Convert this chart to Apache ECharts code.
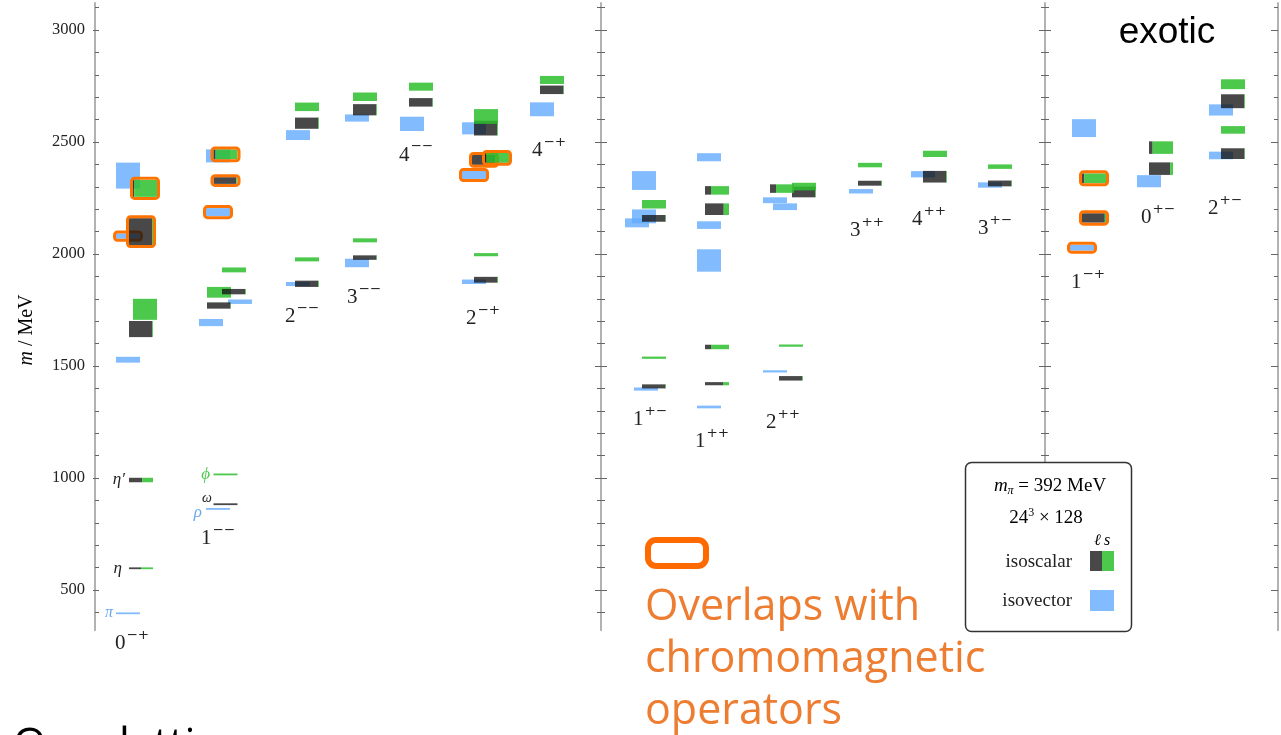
<!DOCTYPE html>
<html>
<head>
<meta charset="utf-8">
<script src="https://cdn.jsdelivr.net/npm/echarts@6/dist/echarts.min.js"></script>
<style>
  html, body { margin: 0; padding: 0; background: #fff; }
  #chart { width: 1281px; height: 735px; }
</style>
</head>
<body>
<div id="chart"></div>
<script>
// J^PC channels, left to right
const channels = ['0-+', '1--', '2--', '3--', '4--', '2-+', '4-+',
                  '1+-', '1++', '2++', '3++', '4++', '3+-',
                  '1-+', '0+-', '2+-'];

// Isovector levels: [channel, mass (MeV), half-height (MeV), chromomagnetic overlap, group]
const isovectorLevels = [
  ['0-+', 396, 4, false, 0], ['0-+', 1528, 13, false, 0], ['0-+', 2080, 12, true, 0], ['0-+', 2350, 58, false, 0],
  ['1--', 862, 4, false, 2], ['1--', 1694, 16, false, 0], ['1--', 1787, 10, false, 1], ['1--', 2187, 18, true, 2], ['1--', 2438, 29, false, 2],
  ['2--', 1866, 9, false, 0], ['2--', 2531, 22, false, 0],
  ['3--', 1960, 19, false, 0], ['3--', 2607, 16, false, 0],
  ['4--', 2581, 32, false, 0],
  ['2-+', 1876, 10, false, 0], ['2-+', 2353, 18, true, 0], ['2-+', 2561, 27, false, 0],
  ['4-+', 2646, 31, false, 0],
  ['1+-', 1397, 7, false, 2], ['1+-', 2139, 20, false, 1], ['1+-', 2168, 31, false, 0], ['1+-', 2328, 42, false, 0],
  ['1++', 1317, 6, false, 0], ['1++', 1971, 50, false, 0], ['1++', 2129, 17, false, 0], ['1++', 2432, 18, false, 0],
  ['2++', 1476, 5, false, 2], ['2++', 2211, 15, false, 1], ['2++', 2240, 13, false, 0],
  ['3++', 2280, 10, false, 0],
  ['4++', 2356, 14, false, 0],
  ['3+-', 2308, 12, false, 0],
  ['1-+', 2028, 13, true, 1], ['1-+', 2562, 40, false, 0],
  ['0+-', 2325, 27, false, 0],
  ['2+-', 2440, 17, false, 0], ['2+-', 2643, 25, false, 0]
];

// Isoscalar levels: [channel, mass (MeV), half-height (MeV), strange fraction, chromomagnetic overlap, group]
const isoscalarLevels = [
  ['0-+', 597, 4, 0.5, false, 0], ['0-+', 991, 10, 0.45, false, 0], ['0-+', 1665, 36, 0.03, false, 0],
  ['0-+', 1753, 47, 1.0, false, 1], ['0-+', 2100, 60, 0.04, true, 0], ['0-+', 2293, 38, 0.95, true, 1],
  ['1--', 883, 4, 0.0, false, 2], ['1--', 1016, 4, 1.0, false, 2], ['1--', 1770, 14, 0.02, false, 0],
  ['1--', 1829, 24, 1.0, false, 0], ['1--', 1832, 12, 0.03, false, 1], ['1--', 1929, 11, 1.0, false, 1],
  ['1--', 2328, 15, 0.05, true, 2], ['1--', 2445, 22, 0.92, true, 2],
  ['2--', 1867, 14, 0.03, false, 0], ['2--', 1976, 9, 1.0, false, 0], ['2--', 2584, 25, 0.03, false, 0], ['2--', 2657, 19, 1.0, false, 0],
  ['3--', 1984, 10, 0.02, false, 0], ['3--', 2061, 9, 1.0, false, 0], ['3--', 2644, 25, 0.03, false, 0], ['3--', 2702, 19, 1.0, false, 0],
  ['4--', 2677, 19, 0.02, false, 0], ['4--', 2747, 18, 1.0, false, 0],
  ['2-+', 1885, 13, 0.02, false, 0], ['2-+', 1997, 7, 1.0, false, 0], ['2-+', 2420, 22, 0.02, true, 1],
  ['2-+', 2429, 22, 0.95, true, 2], ['2-+', 2562, 33, 0.03, false, 0], ['2-+', 2614, 33, 1.0, false, 0],
  ['4-+', 2733, 19, 0.02, false, 0], ['4-+', 2777, 18, 1.0, false, 0],
  ['1+-', 1409, 9, 0.02, false, 0], ['1+-', 1537, 5, 1.0, false, 0], ['1+-', 2159, 15, 0.02, false, 0], ['1+-', 2222, 19, 1.0, false, 0],
  ['1++', 1421, 7, 0.25, false, 0], ['1++', 1585, 10, 0.75, false, 0], ['1++', 2200, 26, 0.22, false, 0], ['1++', 2284, 19, 0.75, false, 0],
  ['2++', 1445, 10, 0.03, false, 2], ['2++', 1591, 5, 1.0, false, 2], ['2++', 2277, 24, 0.03, false, 1],
  ['2++', 2292, 19, 0.75, false, 0], ['2++', 2301, 17, 1.0, false, 1],
  ['3++', 2316, 11, 0.02, false, 0], ['3++', 2397, 10, 1.0, false, 0],
  ['4++', 2345, 26, 0.03, false, 0], ['4++', 2447, 14, 1.0, false, 0],
  ['3+-', 2315, 13, 0.02, false, 0], ['3+-', 2390, 10, 1.0, false, 0],
  ['1-+', 2161, 21, 0.05, true, 0], ['1-+', 2338, 22, 0.9, true, 0],
  ['0+-', 2381, 28, 0.12, false, 0], ['0+-', 2475, 28, 0.85, false, 0],
  ['2+-', 2448, 24, 0.02, false, 0], ['2+-', 2554, 17, 1.0, false, 0], ['2+-', 2682, 31, 0.03, false, 0], ['2+-', 2758, 22, 1.0, false, 0]
];

// Names of the lightest states
const lightStateNames = ['π', 'η', 'η′', 'ρ', 'ω', 'ϕ'];

// Mass axis tick labels
const massTickLabels = [500, 1000, 1500, 2000, 2500, 3000];

// ---------- layout (x positions in slot units, label anchors) ----------
const MASS_MIN = 320, MASS_MAX = 3120;
const SLOT_MAX = 118.3;
const BOX_W = 2.4;
// groups: [isoscalar left edge, isovector left edge]; label: [centre x, mass]
const layout = {
  '0-+': { groups: [[3.4, 2.1], [3.8, 2.1]], label: [3.7, 262] },
  '1--': { groups: [[11.2, 10.4], [12.7, 13.3], [11.85, 11.1]], label: [12.3, 732] },
  '2--': { groups: [[20.0, 19.1]], label: [20.7, 1719] },
  '3--': { groups: [[25.8, 25.0]], label: [26.9, 1808] },
  '4--': { groups: [[31.4, 30.5]], label: [32.1, 2442] },
  '2-+': { groups: [[37.9, 36.7], [37.7, 36.7], [39.0, 36.7]], label: [38.8, 1714] },
  '4-+': { groups: [[44.5, 43.5]], label: [45.4, 2464] },
  '1+-': { groups: [[54.7, 53.7], [54.7, 53.0], [54.7, 53.9]], label: [55.5, 1259] },
  '1++': { groups: [[61.0, 60.2]], label: [61.7, 1161] },
  '2++': { groups: [[67.5, 66.8], [69.7, 67.8], [68.4, 66.8]], label: [68.8, 1250] },
  '3++': { groups: [[76.3, 75.4]], label: [77.2, 2107] },
  '4++': { groups: [[82.8, 81.6]], label: [83.4, 2152] },
  '3+-': { groups: [[89.3, 88.3]], label: [90.0, 2116] },
  '1-+': { groups: [[98.7, 97.7], [98.7, 97.5]], label: [99.3, 1875] },
  '0+-': { groups: [[105.4, 104.2]], label: [106.3, 2161] },
  '2+-': { groups: [[112.6, 111.4]], label: [113.0, 2205] }
};
// right edge x, mass anchor, colour key, size
const lightStateLayout = [
  [1.8, 396, 'iv', 16], [2.7, 597, 'ink', 17], [3.0, 991, 'ink', 17],
  [10.7, 848, 'iv', 17], [11.7, 911, 'ink', 14], [11.5, 1016, 's', 17]
];

const COLORS = {
  iv: 'rgba(99,171,255,0.8)',
  light: 'rgba(20,20,20,0.78)',
  strange: 'rgba(45,192,45,0.85)',
  frame: '#ff7400',
  ink: '#222',
  ivText: '#6aa8f0',
  sText: '#4cc94c'
};
const SERIF = '"Liberation Serif", "DejaVu Serif", serif';
const SANS = '"Open Sans", "Noto Sans", sans-serif';

const minorTicks = [];
for (let v = 400; v <= 3100; v += 100) minorTicks.push(v);

function frame(x, y, w, h) {
  return {
    type: 'rect',
    shape: { x: x - 1.5, y: y - 1.5, width: w + 3, height: h + 3, r: 3 },
    style: { fill: 'none', stroke: COLORS.frame, lineWidth: 3 }
  };
}

function boxCorners(api, x0, m, e) {
  const a = api.coord([x0, m + e]);
  const b = api.coord([x0 + BOX_W, m - e]);
  return { x: a[0], y: a[1], w: b[0] - a[0], h: Math.max(b[1] - a[1], 1.8) };
}

function renderIsovector(params, api) {
  const lv = isovectorLevels[params.dataIndex];
  const b = boxCorners(api, api.value(0), api.value(1), api.value(2));
  const children = [{ type: 'rect', shape: { x: b.x, y: b.y, width: b.w, height: b.h }, style: { fill: COLORS.iv } }];
  if (lv[3]) children.push(frame(b.x, b.y, b.w, b.h));
  return { type: 'group', children };
}

function renderIsoscalar(params, api) {
  const lv = isoscalarLevels[params.dataIndex];
  const s = lv[3];
  const b = boxCorners(api, api.value(0), api.value(1), api.value(2));
  const wl = b.w * (1 - s);
  const children = [];
  if (wl > 0) children.push({ type: 'rect', shape: { x: b.x, y: b.y, width: wl, height: b.h }, style: { fill: COLORS.light } });
  if (s > 0) children.push({ type: 'rect', shape: { x: b.x + wl, y: b.y, width: b.w - wl, height: b.h }, style: { fill: COLORS.strange } });
  if (lv[4]) children.push(frame(b.x, b.y, b.w, b.h));
  return { type: 'group', children };
}

// J^PC label: spin digit with raised P and C signs
function renderChannelLabel(params, api) {
  const ch = channels[params.dataIndex];
  const p = api.coord([api.value(0), api.value(1)]);
  return {
    type: 'group',
    children: [
      {
        type: 'text', x: p[0] - 6.5, y: p[1],
        style: { text: ch[0], font: '21px ' + SERIF, fill: COLORS.ink, align: 'right', verticalAlign: 'middle' }
      },
      {
        type: 'text', x: p[0] - 5.5, y: p[1] - 8,
        style: { text: ch.slice(1).replace(/-/g, '\u2212'), font: '13.5px "DejaVu Serif", serif', fill: COLORS.ink, align: 'left', verticalAlign: 'middle' }
      }
    ]
  };
}

function renderLightName(params, api) {
  const cfg = lightStateLayout[params.dataIndex];
  const p = api.coord([api.value(0), api.value(1)]);
  const fill = cfg[2] === 'iv' ? COLORS.ivText : cfg[2] === 's' ? COLORS.sText : COLORS.ink;
  return {
    type: 'text', x: p[0], y: p[1],
    style: {
      text: lightStateNames[params.dataIndex], fill,
      font: 'italic ' + cfg[3] + 'px ' + SERIF, align: 'right', verticalAlign: 'middle'
    }
  };
}

function tickAxis(position, offset, inside, values, length, showLine) {
  return {
    type: 'value', min: MASS_MIN, max: MASS_MAX, position, offset,
    axisLine: { show: showLine, lineStyle: { color: '#b2b2b2', width: 2 } },
    axisTick: { show: true, inside, length, customValues: values, lineStyle: { color: '#666', width: 1 } },
    axisLabel: { show: false },
    splitLine: { show: false }
  };
}

const mid1 = -506, mid2 = -950;

const option = {
  animation: false,
  backgroundColor: '#fff',
  grid: { left: 95, right: 3, top: 3.12, bottom: 104.68, outerBoundsMode: 'none' },
  xAxis: { type: 'value', min: 0, max: SLOT_MAX, show: false },
  yAxis: [
    {
      type: 'value', min: MASS_MIN, max: MASS_MAX, position: 'left',
      axisLine: { show: true, lineStyle: { color: '#b2b2b2', width: 2 } },
      axisTick: { show: true, inside: true, length: 4, customValues: minorTicks, lineStyle: { color: '#666', width: 1 } },
      axisLabel: {
        customValues: massTickLabels, formatter: v => String(v),
        fontFamily: SERIF, fontSize: 16.5, color: '#222', margin: 10
      },
      splitLine: { show: false }
    },
    tickAxis('left', 0, false, massTickLabels, 2, false),
    tickAxis('left', mid1, true, minorTicks, 4, true),
    tickAxis('left', mid1, false, minorTicks, 4, false),
    tickAxis('left', mid1, true, massTickLabels, 6, false),
    tickAxis('left', mid1, false, massTickLabels, 6, false),
    tickAxis('left', mid2, true, minorTicks, 4, true),
    tickAxis('left', mid2, false, minorTicks, 4, false),
    tickAxis('left', mid2, true, massTickLabels, 6, false),
    tickAxis('left', mid2, false, massTickLabels, 6, false),
    tickAxis('right', 0, true, minorTicks, 4, true),
    tickAxis('right', 0, true, massTickLabels, 7, false)
  ],
  series: [
    {
      type: 'custom', name: 'isovector', z: 2, clip: false,
      renderItem: renderIsovector,
      encode: { x: 0, y: 1 },
      data: isovectorLevels.map(l => [layout[l[0]].groups[l[4]][1], l[1], l[2]])
    },
    {
      type: 'custom', name: 'isoscalar', z: 3, clip: false,
      renderItem: renderIsoscalar,
      encode: { x: 0, y: 1 },
      data: isoscalarLevels.map(l => [layout[l[0]].groups[l[5]][0], l[1], l[2]])
    },
    {
      type: 'custom', name: 'channels', z: 4, clip: false,
      renderItem: renderChannelLabel,
      encode: { x: 0, y: 1 },
      data: channels.map(c => layout[c].label)
    },
    {
      type: 'custom', name: 'light states', z: 4, clip: false,
      renderItem: renderLightName,
      encode: { x: 0, y: 1 },
      data: lightStateLayout.map(c => [c[0], c[1]])
    }
  ],
  graphic: [
    {
      type: 'text', x: 27, y: 330, rotation: Math.PI / 2,
      style: {
        text: '{i|m}{n| / MeV}', align: 'center', verticalAlign: 'middle',
        rich: {
          i: { fontFamily: SERIF, fontStyle: 'italic', fontSize: 20, color: '#222' },
          n: { fontFamily: SERIF, fontSize: 20, color: '#222' }
        }
      }
    },
    {
      type: 'text', x: 1167, y: 33,
      style: { text: 'exotic', font: '37px "Liberation Sans", Arial, sans-serif', fill: '#000', align: 'center', verticalAlign: 'middle' }
    },
    // key box
    { type: 'rect', z: 100, shape: { x: 965.5, y: 462.5, width: 166, height: 169, r: 6 }, style: { fill: '#fff', stroke: '#333', lineWidth: 1.5 } },
    {
      type: 'text', z: 101, x: 1050, y: 486,
      style: {
        text: '{i|m}{sub|π}{n| = 392 MeV}', align: 'center', verticalAlign: 'middle',
        rich: {
          i: { fontFamily: SERIF, fontStyle: 'italic', fontSize: 19, lineHeight: 22, color: '#222' },
          sub: { fontFamily: SERIF, fontStyle: 'italic', fontSize: 12, lineHeight: 12, verticalAlign: 'bottom', color: '#222' },
          n: { fontFamily: SERIF, fontSize: 19, lineHeight: 22, color: '#222' }
        }
      }
    },
    {
      type: 'text', z: 101, x: 1046, y: 518,
      style: {
        text: '{n|24}{sup|3}{n| × 128}', align: 'center', verticalAlign: 'middle',
        rich: {
          n: { fontFamily: SERIF, fontSize: 19, lineHeight: 22, color: '#222' },
          sup: { fontFamily: SERIF, fontSize: 12, lineHeight: 12, verticalAlign: 'top', color: '#222' }
        }
      }
    },
    {
      type: 'text', z: 101, x: 1102, y: 541,
      style: {
        text: '{l|ℓ} {s|s}', align: 'center', verticalAlign: 'middle',
        rich: {
          l: { fontFamily: SERIF, fontStyle: 'italic', fontSize: 16, color: '#444' },
          s: { fontFamily: SERIF, fontStyle: 'italic', fontSize: 16, color: '#4cc94c' }
        }
      }
    },
    { type: 'text', z: 101, x: 1072, y: 562, style: { text: 'isoscalar', font: '19px ' + SERIF, fill: '#222', align: 'right', verticalAlign: 'middle' } },
    { type: 'rect', z: 101, shape: { x: 1090, y: 551, width: 12, height: 20 }, style: { fill: COLORS.light } },
    { type: 'rect', z: 101, shape: { x: 1102, y: 551, width: 12, height: 20 }, style: { fill: COLORS.strange } },
    { type: 'text', z: 101, x: 1072, y: 601, style: { text: 'isovector', font: '19px ' + SERIF, fill: '#222', align: 'right', verticalAlign: 'middle' } },
    { type: 'rect', z: 101, shape: { x: 1090, y: 590, width: 24, height: 21 }, style: { fill: COLORS.iv } },
    // chromomagnetic overlap marker and caption
    {
      type: 'rect', shape: { x: 648, y: 540, width: 58, height: 26, r: 8 },
      style: { fill: '#fff', stroke: '#ff6a00', lineWidth: 6 }
    },
    { type: 'text', x: 645, y: 608, style: { text: 'Overlaps with', font: '43px ' + SANS, fill: '#ed7d31', align: 'left', verticalAlign: 'middle' } },
    { type: 'text', x: 645, y: 660, style: { text: 'chromomagnetic', font: '43px ' + SANS, fill: '#ed7d31', align: 'left', verticalAlign: 'middle' } },
    { type: 'text', x: 645, y: 712, style: { text: 'operators', font: '43px ' + SANS, fill: '#ed7d31', align: 'left', verticalAlign: 'middle' } },
    { type: 'text', x: 13, y: 747, style: { text: 'On a lattice', font: '43px ' + SANS, fill: '#000', align: 'left', verticalAlign: 'middle' } }
  ]
};

const chart = echarts.init(document.getElementById('chart'), null, { renderer: 'canvas' });
chart.setOption(option);
</script>
</body>
</html>
